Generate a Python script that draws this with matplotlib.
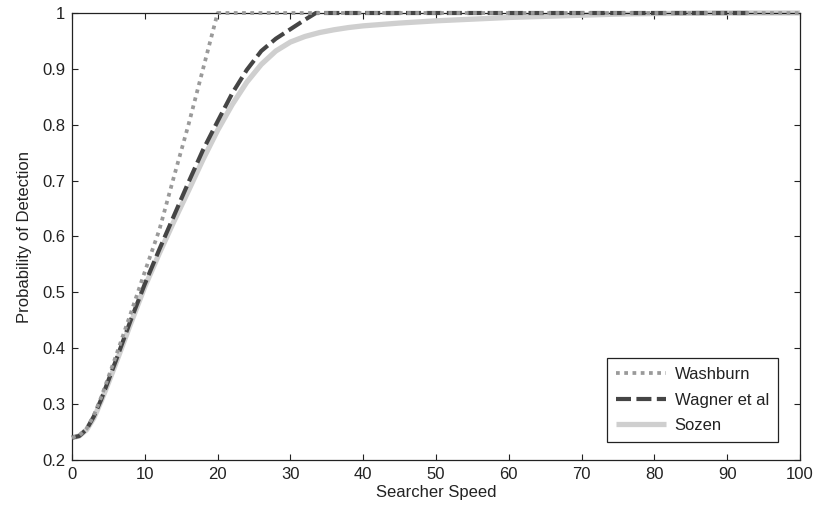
import matplotlib
matplotlib.use("Agg")
import matplotlib.pyplot as plt

plt.rcParams['font.family'] = ['Liberation Sans', 'DejaVu Sans']

# Data
sozen_x = [0, 1, 2, 3, 4, 5, 6, 7, 8, 9, 10, 12, 14, 16, 18, 20, 22, 24, 26, 28,
           30, 32, 34, 36, 38, 40, 45, 50, 55, 60, 65, 70, 75, 80, 90, 100]
sozen_y = [0.240, 0.243, 0.254, 0.275, 0.305, 0.338, 0.372, 0.407, 0.442, 0.476,
           0.510, 0.570, 0.627, 0.682, 0.738, 0.790, 0.836, 0.876, 0.908, 0.932,
           0.948, 0.958, 0.965, 0.970, 0.974, 0.977, 0.982, 0.986, 0.989, 0.992,
           0.994, 0.996, 0.998, 0.999, 1.0, 1.0]

wagner_x = [0, 1, 2, 3, 4, 6, 8, 10, 12, 14, 16, 18, 20, 22, 24, 26, 28, 30, 32, 33.5, 93]
wagner_y = [0.240, 0.243, 0.255, 0.278, 0.308, 0.377, 0.448, 0.515, 0.577, 0.637,
            0.697, 0.755, 0.806, 0.856, 0.898, 0.932, 0.954, 0.971, 0.988, 1.0, 1.0]

washburn_x = [0, 1, 2, 3, 4, 6, 8, 10, 12, 14, 16, 18, 20, 100]
washburn_y = [0.240, 0.244, 0.256, 0.280, 0.312, 0.385, 0.460, 0.537, 0.612, 0.707,
              0.800, 0.900, 1.0, 1.0]

labels = ["Washburn", "Wagner et al", "Sozen"]
x_ticks = [0, 10, 20, 30, 40, 50, 60, 70, 80, 90, 100]
y_ticks = [0.2, 0.3, 0.4, 0.5, 0.6, 0.7, 0.8, 0.9, 1.0]
y_tick_labels = ["0.2", "0.3", "0.4", "0.5", "0.6", "0.7", "0.8", "0.9", "1"]

fig = plt.figure(figsize=(8.15, 5.11), dpi=100)
ax = fig.add_axes([72/815, 51/511, 728/815, 447/511])

txt = '#222222'
l3, = ax.plot(sozen_x, sozen_y, color='#cfcfcf', lw=3.8, solid_capstyle='butt',
              clip_on=False, zorder=2)
l2, = ax.plot(wagner_x, wagner_y, color='#454545', lw=3.0, dashes=(3.6, 1.3),
              clip_on=False, zorder=3)
l1, = ax.plot(washburn_x, washburn_y, color='#9a9a9a', lw=2.7, dashes=(1.0, 1.2),
              clip_on=False, zorder=4)

ax.set_xlim(0, 100)
ax.set_ylim(0.2, 1.0)
ax.set_xticks(x_ticks)
ax.set_yticks(y_ticks)
ax.set_yticklabels(y_tick_labels)
ax.tick_params(direction='in', top=True, right=True, length=4, width=0.8,
               labelsize=12, colors=txt, pad=5)
for s in ax.spines.values():
    s.set_color('#222222')
    s.set_linewidth(0.9)

ax.set_xlabel("Searcher Speed", fontsize=12, color=txt, labelpad=2)
ax.set_ylabel("Probability of Detection", fontsize=12, color=txt, labelpad=7)

leg = ax.legend([l1, l2, l3], labels, loc='lower right',
                bbox_to_anchor=(778/815, 69/511), bbox_transform=fig.transFigure,
                borderaxespad=0, fontsize=12, handlelength=3.0, handletextpad=0.5,
                labelspacing=0.62, borderpad=0.55, fancybox=False, framealpha=1,
                edgecolor='#222222')
leg.get_frame().set_linewidth(0.9)
for t in leg.get_texts():
    t.set_color(txt)

fig.savefig("out.png", dpi=100)
